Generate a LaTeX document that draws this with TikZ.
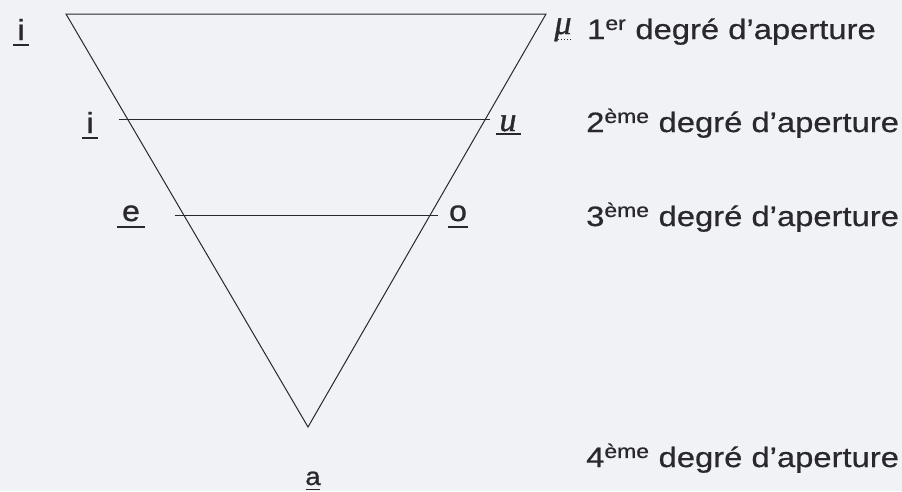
\documentclass[tikz,border=0pt]{standalone}
\usepackage{fontspec}
\setmainfont{Liberation Sans}
\newfontfamily\labfont[FakeStretch=1.17,FakeBold=0.6]{Liberation Sans}
\newfontfamily\vowfont[FakeStretch=1.1,FakeBold=1]{Liberation Sans}
\newfontfamily\serifit[FakeBold=1]{Liberation Serif}
\definecolor{ink}{RGB}{40,40,45}
\definecolor{paper}{RGB}{241,242,245}
\begin{document}
\begin{tikzpicture}[x=1pt,y=-1pt,
  edge/.style={draw=ink,line width=1pt},
  degree/.style={anchor=base west,inner sep=0pt,text=ink,font=\labfont\fontsize{28}{33}\selectfont},
  vowel/.style={anchor=base,inner sep=0pt,text=ink,font=\vowfont\fontsize{29}{34}\selectfont},
  ivowel/.style={anchor=base,inner sep=0pt,text=ink,font=\serifit\itshape\fontsize{34}{38}\selectfont},
  uline/.style={draw=ink,line width=1.6pt}]
\fill[paper] (0,0) rectangle (902,491);
\useasboundingbox (0,0) rectangle (902,491);
% triangle
\coordinate (TL) at (66,14);
\coordinate (TR) at (546,14);
\coordinate (A) at (308,427);
\draw[edge,line join=miter] (TL) -- (TR) -- (A) -- cycle;
% aperture lines
\coordinate (L2a) at (119,119);
\coordinate (L2b) at (490,119);
\coordinate (L3a) at (175,215);
\coordinate (L3b) at (438,215);
\draw[edge] (L2a) -- (L2b);
\draw[edge] (L3a) -- (L3b);
% vowels
\node[vowel] (i1) at (21,40) {i};
\draw[uline] (13,45) -- (29,45);
\node[ivowel] (mu) at (563,34) {μ};
\draw[draw=ink,line width=1pt,dotted] (555,39) -- (572,39);
\node[vowel] (i2) at (90,133) {i};
\draw[uline] (82,138) -- (98,138);
\node[ivowel] (u2) at (508,131) {u};
\draw[uline] (496,134) -- (521,134);
\node[vowel] (e3) at (131,221) {e};
\draw[uline] (117,227) -- (145,227);
\node[vowel] (o3) at (458,221) {o};
\draw[uline] (448,227) -- (468,227);
\node[vowel,font=\vowfont\fontsize{25}{29}\selectfont] (a4) at (313,485) {a};
\draw[draw=ink,line width=1pt] (306,489) -- (320,489);
% degrees
\node[degree] (d1) at (587,39) {1\textsuperscript{er} degré d’aperture};
\node[degree] (d2) at (586,132) {2\textsuperscript{ème} degré d’aperture};
\node[degree] (d3) at (586,226) {3\textsuperscript{ème} degré d’aperture};
\node[degree] (d4) at (586,467) {4\textsuperscript{ème} degré d’aperture};
\end{tikzpicture}
\end{document}
